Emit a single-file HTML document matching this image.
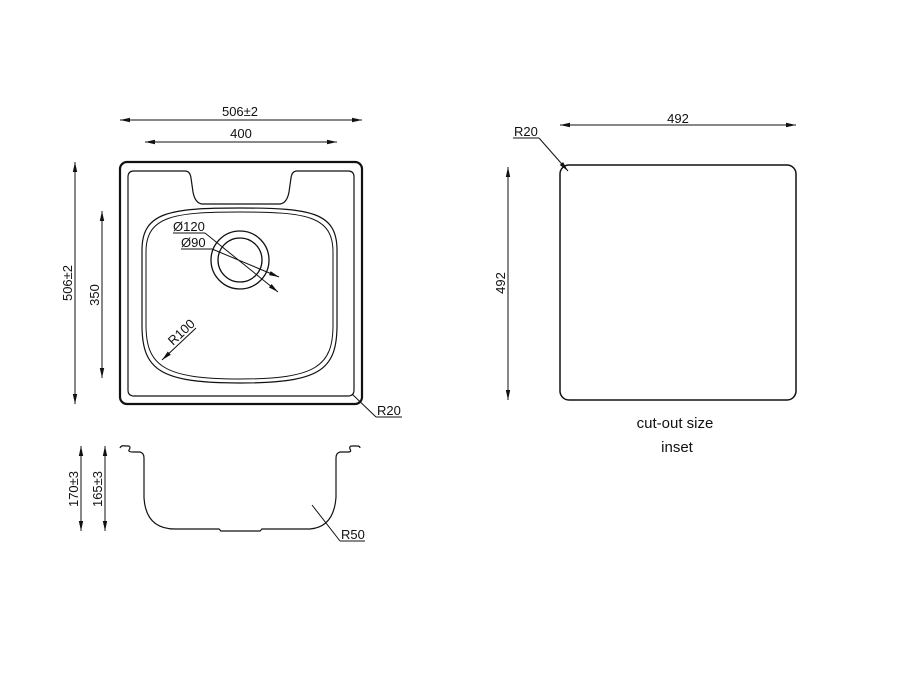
<!DOCTYPE html>
<html><head><meta charset="utf-8"><style>
html,body{margin:0;padding:0;background:#fff;width:900px;height:675px;overflow:hidden}
text{font-family:"Liberation Sans",Arial,sans-serif;fill:#111}
</style></head><body>
<svg width="900" height="675" viewBox="0 0 900 675" xmlns="http://www.w3.org/2000/svg">
<defs>
<marker id="a" viewBox="0 0 10 6" refX="10" refY="3" markerWidth="10" markerHeight="6" orient="auto-start-reverse" markerUnits="userSpaceOnUse"><path d="M0,0.8 L10,3 L0,5.2 z" fill="#111"/></marker>
</defs>
<g stroke="#111" fill="none">
<line x1="120" y1="120" x2="362" y2="120" stroke-width="1" marker-start="url(#a)" marker-end="url(#a)"/>
<line x1="145" y1="142" x2="337" y2="142" stroke-width="1" marker-start="url(#a)" marker-end="url(#a)"/>
<line x1="75" y1="162" x2="75" y2="404" stroke-width="1" marker-start="url(#a)" marker-end="url(#a)"/>
<line x1="102" y1="211" x2="102" y2="378" stroke-width="1" marker-start="url(#a)" marker-end="url(#a)"/>
<rect x="120" y="162" width="242" height="242" rx="7" stroke-width="2.2"/>
<path d="M134 171 H185 Q190 171 191 178 L193 192 Q195 203 202 204 H280 Q287 203 289 192 L291 178 Q292 171 297 171 H348 Q354 171 354 177 V390 Q354 396 348 396 H134 Q128 396 128 390 V177 Q128 171 134 171 Z" stroke-width="1.2"/>
<path d="M240 208 C310 208 337 212 337 250 V325 C337 370 320 383 240 383 C160 383 142 370 142 325 V250 C142 212 170 208 240 208 Z" stroke-width="1.2"/>
<path d="M240 212 C306 212 333 216 333 252 V325 C333 366 316 379 240 379 C164 379 146 366 146 325 V252 C146 216 174 212 240 212 Z" stroke-width="1"/>
<circle cx="240" cy="260" r="29" stroke-width="1.3"/>
<circle cx="240" cy="260" r="22" stroke-width="1.3"/>
<line x1="173" y1="233" x2="205" y2="233" stroke-width="1"/>
<line x1="205" y1="233" x2="278" y2="292" stroke-width="1" marker-end="url(#a)"/>
<line x1="181" y1="249" x2="212" y2="249" stroke-width="1"/>
<line x1="212" y1="249" x2="279" y2="277" stroke-width="1" marker-end="url(#a)"/>
<line x1="196" y1="328" x2="162" y2="360" stroke-width="1" marker-end="url(#a)"/>
<line x1="352" y1="394" x2="376" y2="417" stroke-width="1"/>
<line x1="376" y1="417" x2="402" y2="417" stroke-width="1"/>
<line x1="81" y1="446" x2="81" y2="531" stroke-width="1" marker-start="url(#a)" marker-end="url(#a)"/>
<line x1="105" y1="446" x2="105" y2="531" stroke-width="1" marker-start="url(#a)" marker-end="url(#a)"/>
<path d="M120 448 Q121 445 126 446 H129 Q131 447 129 450 Q128 452 133 452 H140 Q144 453 144 458 V498 Q146 529 175 529 H219 L221 531 H260 L262 529 H310 Q334 527 336 497 V458 Q336 453 340 452 H348 Q352 452 350 449 Q349 446 352 446 H357 Q360 446 360 448" stroke-width="1.2"/>
<line x1="312" y1="505" x2="340" y2="541" stroke-width="1"/>
<line x1="340" y1="541" x2="365" y2="541" stroke-width="1"/>
<line x1="560" y1="125" x2="796" y2="125" stroke-width="1" marker-start="url(#a)" marker-end="url(#a)"/>
<line x1="508" y1="167" x2="508" y2="400" stroke-width="1" marker-start="url(#a)" marker-end="url(#a)"/>
<rect x="560" y="165" width="236" height="235" rx="9" stroke-width="1.5"/>
<line x1="513" y1="138" x2="539" y2="138" stroke-width="1"/>
<line x1="539" y1="138" x2="568" y2="171" stroke-width="1" marker-end="url(#a)"/>
</g>
<g font-size="13">
<text x="240" y="116" text-anchor="middle">506±2</text>
<text x="241" y="138" text-anchor="middle">400</text>
<text transform="translate(72,283) rotate(-90)" text-anchor="middle">506±2</text>
<text transform="translate(99,295) rotate(-90)" text-anchor="middle">350</text>
<text x="173" y="231">Ø120</text>
<text x="181" y="247">Ø90</text>
<text transform="translate(173,346) rotate(-43)">R100</text>
<text x="377" y="415">R20</text>
<text transform="translate(78,489) rotate(-90)" text-anchor="middle">170±3</text>
<text transform="translate(102,489) rotate(-90)" text-anchor="middle">165±3</text>
<text x="341" y="539">R50</text>
<text x="678" y="123" text-anchor="middle">492</text>
<text x="514" y="136">R20</text>
<text transform="translate(505,283) rotate(-90)" text-anchor="middle">492</text>
</g>
<text x="675" y="428" font-size="15" text-anchor="middle">cut-out size</text>
<text x="677" y="452" font-size="15" text-anchor="middle">inset</text>
</svg>
</body></html>
